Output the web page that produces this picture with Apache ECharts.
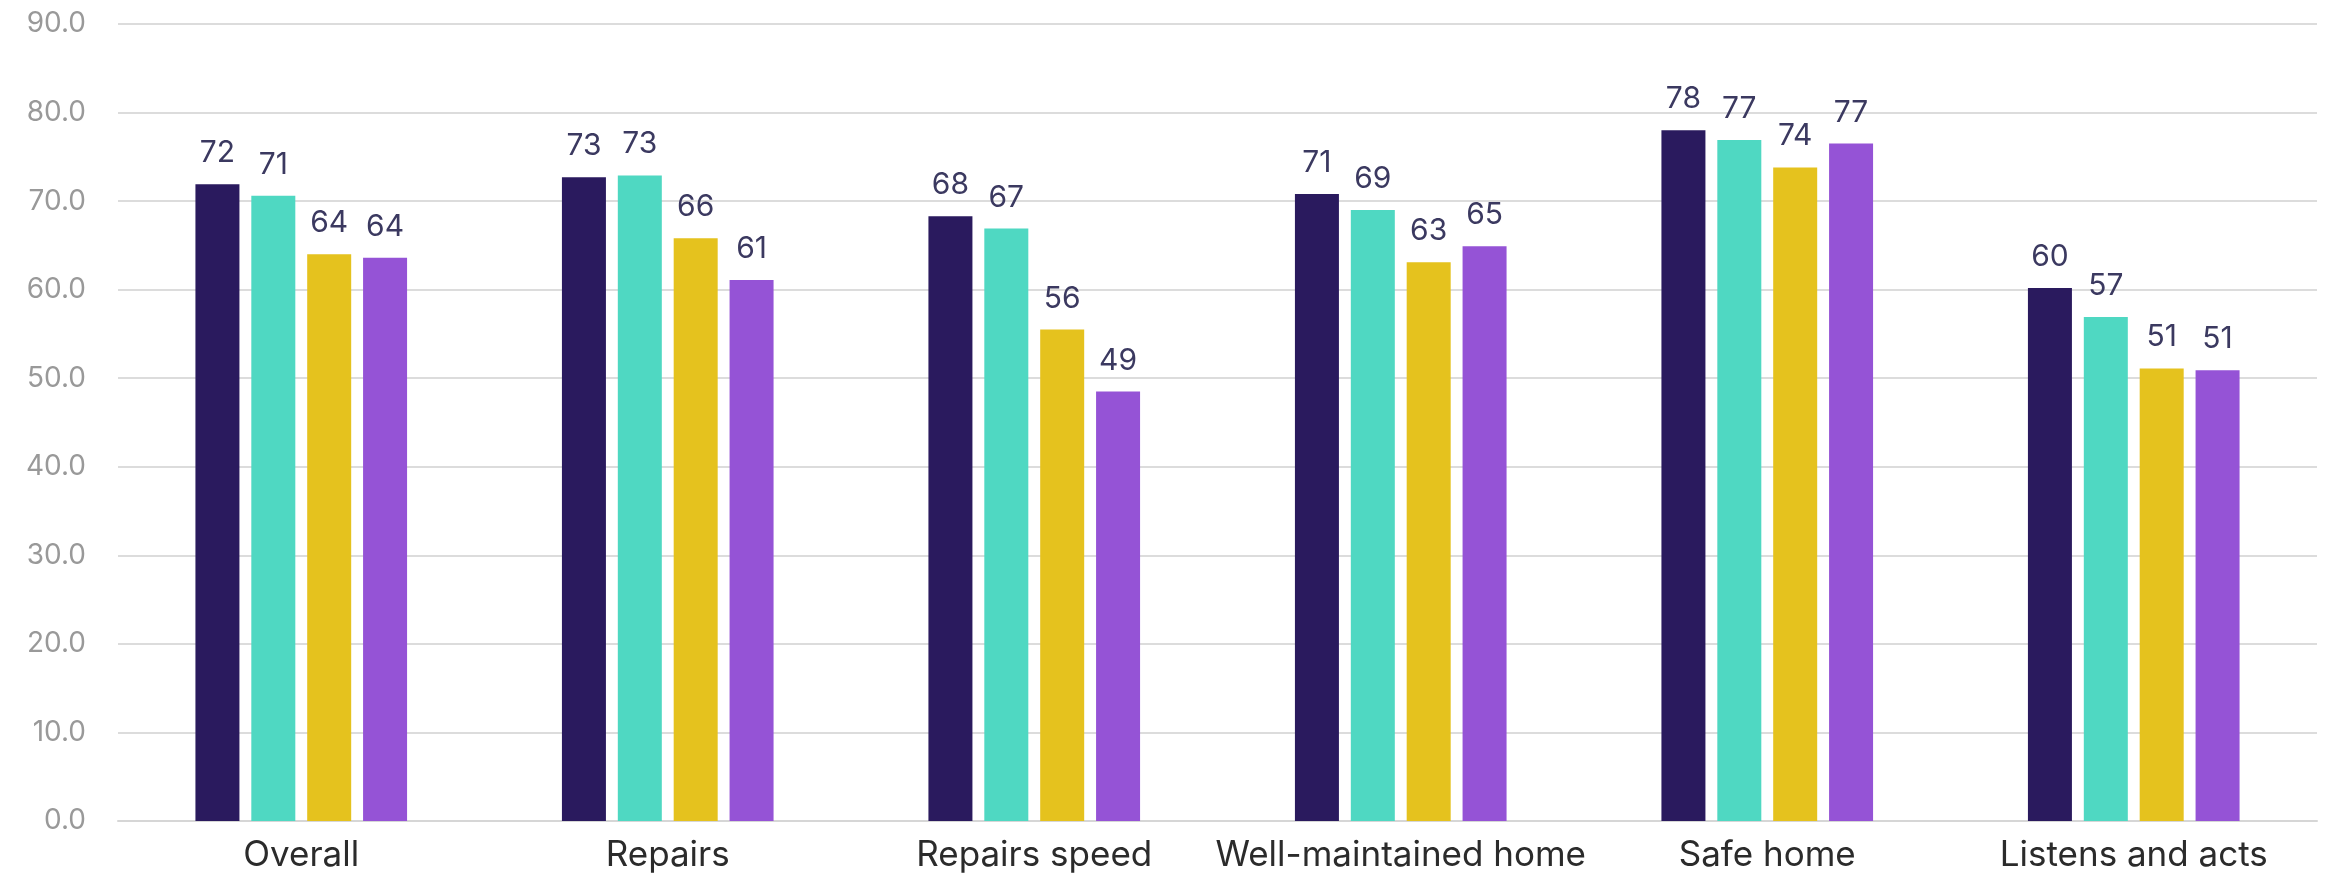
<!DOCTYPE html>
<html>
<head>
<meta charset="utf-8">
<title>Satisfaction scores by measure</title>
<script src="https://cdn.jsdelivr.net/npm/echarts@6/dist/echarts.min.js"></script>
<style>
  html, body { margin: 0; padding: 0; background: #ffffff; }
  #chart { width: 2328px; height: 880px; }
</style>
</head>
<body>
<div id="chart"></div>
<script>
// Measures along the x axis
const categories = ['Overall', 'Repairs', 'Repairs speed', 'Well-maintained home', 'Safe home', 'Listens and acts'];

// Scores per group (percent satisfied)
const groupA = [71.9, 72.7, 68.3, 70.8, 78.0, 60.2];
const groupB = [70.6, 72.9, 66.9, 69.0, 76.9, 56.9];
const groupC = [64.0, 65.8, 55.5, 63.1, 73.8, 51.1];
const groupD = [63.6, 61.1, 48.5, 64.9, 76.5, 50.9];

// Y axis range and step
const yMin = 0;
const yMax = 90;
const yStep = 10;

const seriesNames = ['Group A', 'Group B', 'Group C', 'Group D'];
const seriesData = [groupA, groupB, groupC, groupD];
const seriesColors = ['#2a1a5e', '#4fd8c2', '#e5c21e', '#9553d6'];

const chart = echarts.init(document.getElementById('chart'), null, { renderer: 'canvas' });

const series = seriesData.map((data, i) => ({
  name: seriesNames[i],
  type: 'bar',
  data: data,
  barWidth: 44,
  barGap: '27%',
  itemStyle: { color: seriesColors[i] },
  label: {
    show: true,
    position: 'top',
    distance: 16,
    fontFamily: 'Inter',
    fontSize: 30,
    color: '#3b3960',
    formatter: p => Math.round(p.value).toString()
  }
}));

chart.setOption({
  animation: false,
  backgroundColor: '#ffffff',
  grid: { left: 118, right: 11, top: 24, bottom: 59, containLabel: false },
  xAxis: {
    type: 'category',
    data: categories,
    axisTick: { show: false },
    axisLine: { show: true, lineStyle: { color: '#d6d6d6', width: 2 } },
    axisLabel: {
      margin: 17,
      fontFamily: 'Inter',
      fontSize: 35,
      color: '#2b2b2b',
      interval: 0
    }
  },
  yAxis: {
    type: 'value',
    min: yMin,
    max: yMax,
    interval: yStep,
    axisLine: { show: false },
    axisTick: { show: false },
    splitLine: { show: true, lineStyle: { color: '#dcdcdc', width: 2 } },
    axisLabel: {
      margin: 32,
      fontFamily: 'Inter',
      fontSize: 28,
      color: '#999999',
      formatter: v => v.toFixed(1)
    }
  },
  series: series
});
</script>
</body>
</html>
